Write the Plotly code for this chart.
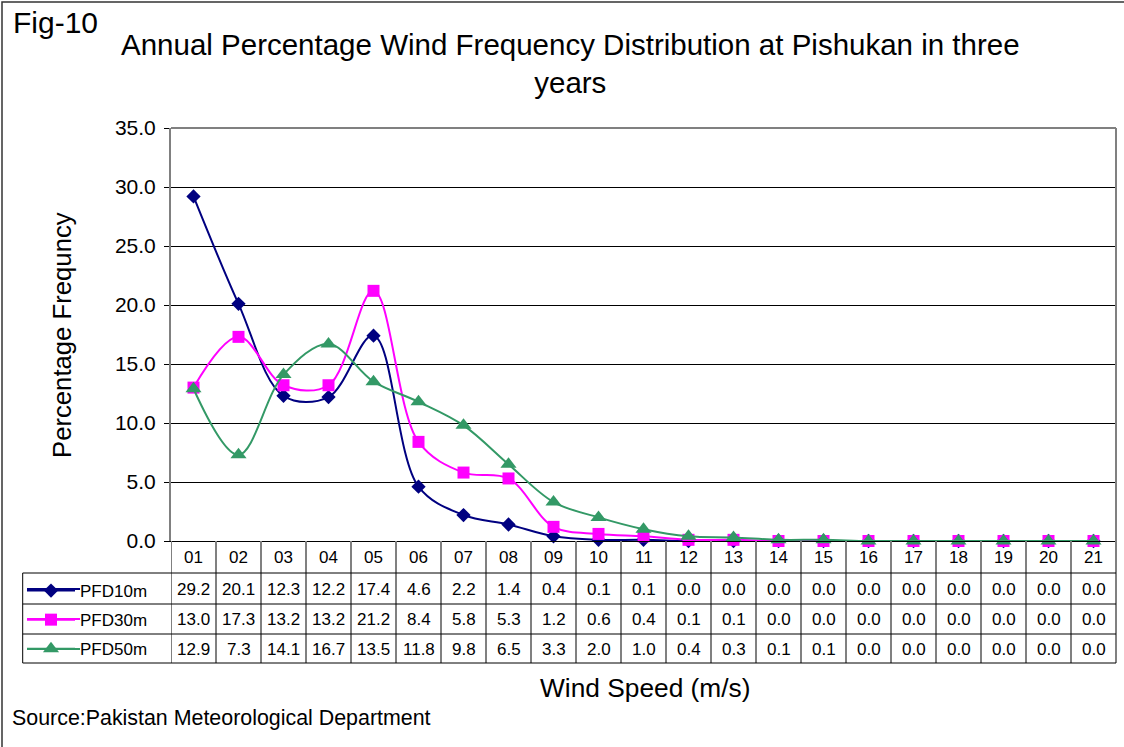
import plotly.graph_objects as go

# wind speed classes (m/s) and the three measuring heights
speeds = ["01", "02", "03", "04", "05", "06", "07", "08", "09", "10", "11",
          "12", "13", "14", "15", "16", "17", "18", "19", "20", "21"]
pfd10 = [29.2, 20.1, 12.3, 12.2, 17.4, 4.6, 2.2, 1.4, 0.4, 0.1, 0.1,
         0.0, 0.0, 0.0, 0.0, 0.0, 0.0, 0.0, 0.0, 0.0, 0.0]
pfd30 = [13.0, 17.3, 13.2, 13.2, 21.2, 8.4, 5.8, 5.3, 1.2, 0.6, 0.4,
         0.1, 0.1, 0.0, 0.0, 0.0, 0.0, 0.0, 0.0, 0.0, 0.0]
pfd50 = [12.9, 7.3, 14.1, 16.7, 13.5, 11.8, 9.8, 6.5, 3.3, 2.0, 1.0,
         0.4, 0.3, 0.1, 0.1, 0.0, 0.0, 0.0, 0.0, 0.0, 0.0]
names = ["PFD10m", "PFD30m", "PFD50m"]

FONT = "Liberation Sans, Arial, sans-serif"
W, H = 1124, 747
L, R, T, B = 171, 8, 128, 206
PW, PH = W - L - R, H - T - B


def px(x):
    return (x - L) / PW


def py(y):
    return (H - B - y) / PH


series = [pfd10, pfd30, pfd50]
colors = ["#000080", "#FF00FF", "#339966"]
symbols = ["diamond", "square", "triangle-up"]
sizes = [11, 12, 14]
xs = list(range(1, len(speeds) + 1))

fig = go.Figure()
for name, vals, c, s, sz in zip(names, series, colors, symbols, sizes):
    fig.add_trace(go.Scatter(
        x=xs, y=vals, name=name, legendgroup=name,
        mode="lines+markers",
        line=dict(color=c, width=2, shape="spline", smoothing=1),
        marker=dict(symbol=s, size=sz, color=c),
        cliponaxis=False,
    ))

shapes = []
# outer frame
shapes.append(dict(type="rect", xref="paper", yref="paper",
                   x0=px(2), y0=py(2), x1=px(1135), y1=py(760),
                   line=dict(color="#333333", width=1.5)))
# plot border top and right
shapes.append(dict(type="line", xref="paper", yref="paper",
                   x0=0, x1=1, y0=1, y1=1, line=dict(color="#808080", width=2)))
row_lines = [py(573), py(604), py(634), py(663)]
shapes.append(dict(type="line", xref="paper", yref="paper",
                   x0=1, x1=1, y0=1, y1=row_lines[-1],
                   line=dict(color="#808080", width=2)))
# table column separators
for k in range(len(speeds) + 1):
    shapes.append(dict(type="line", xref="x", yref="paper",
                       x0=k + 0.5, x1=k + 0.5, y0=0, y1=row_lines[-1],
                       line=dict(color="#808080", width=2)))
# table row lines
for yl in row_lines:
    shapes.append(dict(type="line", xref="paper", yref="paper",
                       x0=px(22.7), x1=1, y0=yl, y1=yl,
                       line=dict(color="black", width=1)))
shapes.append(dict(type="line", xref="paper", yref="paper",
                   x0=px(22.7), x1=px(22.7), y0=row_lines[0], y1=row_lines[-1],
                   line=dict(color="black", width=1)))

row_y = [py(589), py(619), py(649)]
# legend key lines inside the table
for c, ry in zip(colors, row_y):
    shapes.append(dict(type="line", xref="paper", yref="paper",
                       x0=px(27), x1=px(80), y0=ry, y1=ry,
                       line=dict(color=c, width=2)))


def txt(text, x, y, size, xref="paper", xanchor="center", **kw):
    return dict(text=text, x=x, y=y, xref=xref, yref="paper",
                xanchor=xanchor, yanchor="middle", showarrow=False,
                font=dict(size=size, color="black", family=FONT), **kw)


ann = [
    txt("Fig-10", px(11), py(22), 30, xanchor="left"),
    txt("Annual Percentage Wind Frequency Distribution at Pishukan in three<br>years",
        px(570), py(63.5), 29.5),
    txt("Percentage Frequncy", px(62), py(335), 25.7, textangle=-90),
    txt("Wind Speed (m/s)", px(645), py(688), 26.3),
    txt("Source:Pakistan Meteorological Department", px(10), py(718), 21.4,
        xanchor="left"),
]

# header row
for x, lab in zip(xs, speeds):
    ann.append(txt(lab, x, py(557), 17, xref="x"))
# data rows
for vals, ry in zip(series, row_y):
    for x, v in zip(xs, vals):
        ann.append(txt(f"{v:.1f}", x, ry, 17, xref="x"))

fig.update_layout(
    width=W, height=H,
    margin=dict(l=L, r=R, t=T, b=B),
    paper_bgcolor="white", plot_bgcolor="white",
    font=dict(family=FONT, color="black"),
    showlegend=True,
    legend=dict(x=px(22), y=py(573), xanchor="left", yanchor="top",
                font=dict(size=17, color="black", family=FONT),
                bgcolor="rgba(0,0,0,0)", itemwidth=48, tracegroupgap=4,
                traceorder="grouped"),
    xaxis=dict(range=[0.5, len(speeds) + 0.5], showgrid=False, zeroline=False,
               showticklabels=False, ticks="", showline=True,
               linecolor="black", linewidth=1),
    yaxis=dict(range=[0, 35], dtick=5, tickformat=".1f", showgrid=True,
               gridcolor="black", gridwidth=1, zeroline=False,
               showline=True, linecolor="#808080", linewidth=2,
               ticks="outside", ticklen=5, tickcolor="black",
               ticklabelstandoff=4,
               tickfont=dict(size=21, color="black", family=FONT)),
    shapes=shapes,
    annotations=ann,
)

fig.write_html("out.html", config={"displayModeBar": False},
               post_script="document.body.style.margin='0px';")
